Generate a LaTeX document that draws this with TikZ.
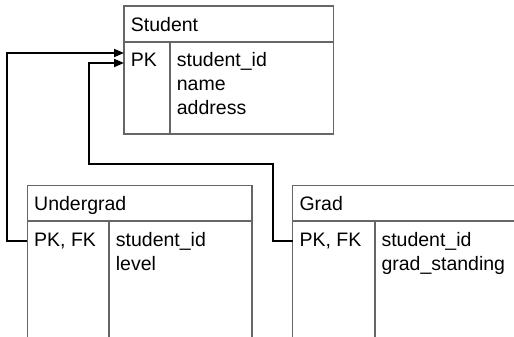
\documentclass[tikz,border=0pt]{standalone}
\usepackage{fontspec}
\setmainfont{Liberation Sans}
\usetikzlibrary{arrows.meta}
\definecolor{boxgray}{HTML}{666666}
\tikzset{
  boxline/.style={draw=boxgray, line width=1.3pt},
  conn/.style={draw=black, line width=1.8pt},
  txt/.style={anchor=base west, inner sep=0pt, font=\fontsize{19.5}{24}\selectfont},
}
\begin{document}
\begin{tikzpicture}[x=1pt,y=-1pt]
\useasboundingbox (0,0) rectangle (514,337);
\clip (0,0) rectangle (514,337);
% Student table
\draw[boxline] (124,6) rectangle (333.5,134);
\draw[boxline] (124,42) -- (333.5,42);
\draw[boxline] (170,42) -- (170,134);
\node[txt] (sttitle) at (130.7,31.7) {Student};
\node[txt] (stpk) at (130.7,66.7) {PK};
\node[txt] (stid) at (176.7,66.7) {student\_id};
\node[txt] (stname) at (176.7,90.7) {name};
\node[txt] (staddr) at (176.7,114.7) {address};
\coordinate (stin1) at (124,53);
\coordinate (stin2) at (124,63);
% Undergrad table
\draw[boxline] (27.3,345) -- (27.3,185.7) -- (252,185.7) -- (252,345);
\draw[boxline] (27.3,221) -- (252,221);
\draw[boxline] (109,221) -- (109,345);
\node[txt] (ugtitle) at (34,210.7) {Undergrad};
\node[txt] (ugpk) at (34,246.7) {PK, FK};
\node[txt] (ugid) at (115.7,246.7) {student\_id};
\node[txt] (uglevel) at (115.7,270.7) {level};
\coordinate (ugout) at (27.3,241);
% Grad table
\draw[boxline] (292.7,345) -- (292.7,185.7) -- (530,185.7);
\draw[boxline] (292.7,221) -- (530,221);
\draw[boxline] (375,221) -- (375,345);
\node[txt] (grtitle) at (299.3,210.7) {Grad};
\node[txt] (grpk) at (299.3,246.7) {PK, FK};
\node[txt] (grid) at (381.3,246.7) {student\_id};
\node[txt] (grstand) at (381.3,270.7) {grad\_standing};
\coordinate (grout) at (292.7,241);
% Connectors
\draw[conn, -{Triangle[length=10pt,width=8pt]}] (ugout) -- (7,241) -- (7,53) -- (stin1);
\draw[conn, -{Triangle[length=10pt,width=8pt]}] (grout) -- (272.7,241) -- (272.7,164) -- (88.7,164) -- (88.7,63) -- (stin2);
\end{tikzpicture}
\end{document}
